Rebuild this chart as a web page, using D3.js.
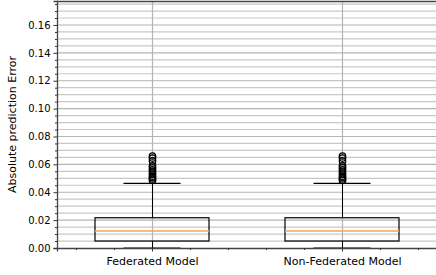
<!DOCTYPE html>
<html lang="en">
<head>
  <meta charset="UTF-8">
  <title>Absolute prediction error boxplot</title>
  <script src="https://d3js.org/d3.v7.min.js"></script>
  <style>
    body { margin: 0; background: #fff; }
    svg { display: block; font-family: "DejaVu Sans", sans-serif; }
    .grid-major { stroke: #b4b4b4; stroke-width: 1.2; }
    .grid-minor { stroke: #c8c8c8; stroke-width: 1.2; }
    .tick-label { font-size: 10px; fill: #000; }
  </style>
</head>
<body>
  <div id="chart"></div>
  <script>
    // data
    const categories = ['Federated Model', 'Non-Federated Model'];
    const q1 = [0.0050, 0.0050];
    const median = [0.0122, 0.0122];
    const q3 = [0.0217, 0.0217];
    const whiskerLow = [0.0, 0.0];
    const whiskerHigh = [0.0464, 0.0464];
    const outliers = [
      [0.0485, 0.0495, 0.0505, 0.0515, 0.0530, 0.0545, 0.0560, 0.0575, 0.0590, 0.0625, 0.0645, 0.0660],
      [0.0485, 0.0495, 0.0505, 0.0515, 0.0530, 0.0545, 0.0560, 0.0575, 0.0590, 0.0625, 0.0645, 0.0660]
    ];
    const yTicks = [0, 0.02, 0.04, 0.06, 0.08, 0.10, 0.12, 0.14, 0.16];

    const W = 436, H = 275;
    const m = { top: 1, right: 0, bottom: 27, left: 57 };
    const svg = d3.select('#chart').append('svg').attr('width', W).attr('height', H);

    const x = d3.scaleLinear().domain([0.5, 2.5]).range([m.left, W - m.right + 1]);
    const y = d3.scaleLinear().domain([0, 0.1772]).range([H - m.bottom, m.top]);

    const minorY = d3.range(0, 0.1772, 0.005).filter(v => Math.abs(Math.round(v / 0.02) * 0.02 - v) > 1e-6);
    const minorX = d3.range(0.6, 2.5, 0.2).filter(v => Math.abs(v - Math.round(v)) > 1e-6);

    // grid
    svg.append('g').selectAll('line').data(minorY).join('line')
      .attr('class', 'grid-minor')
      .attr('x1', m.left).attr('x2', W)
      .attr('y1', d => y(d)).attr('y2', d => y(d));
    svg.append('g').selectAll('line').data(yTicks.slice(1)).join('line')
      .attr('class', 'grid-major')
      .attr('x1', m.left).attr('x2', W)
      .attr('y1', d => y(d)).attr('y2', d => y(d));
    svg.append('g').selectAll('line').data([1, 2]).join('line')
      .attr('class', 'grid-major')
      .attr('x1', d => Math.round(x(d)) + 0.5).attr('x2', d => Math.round(x(d)) + 0.5)
      .attr('y1', m.top).attr('y2', H - m.bottom);

    // boxes
    const boxW = 0.6, capW = 0.3;
    const g = svg.append('g');
    categories.forEach((c, i) => {
      const cx = i + 1;
      const px = Math.round(x(cx)) + 0.5;
      // whiskers
      g.append('line').attr('x1', px).attr('x2', px)
        .attr('y1', y(q3[i])).attr('y2', y(whiskerHigh[i]))
        .attr('stroke', '#000').attr('stroke-width', 1);
      g.append('line').attr('x1', px).attr('x2', px)
        .attr('y1', y(q1[i])).attr('y2', y(whiskerLow[i]))
        .attr('stroke', '#000').attr('stroke-width', 1);
      [whiskerHigh[i], whiskerLow[i]].forEach(v => {
        g.append('line')
          .attr('x1', x(cx - capW / 2)).attr('x2', x(cx + capW / 2))
          .attr('y1', y(v)).attr('y2', y(v))
          .attr('stroke', '#000').attr('stroke-width', 1.2);
      });
      g.append('rect')
        .attr('x', x(cx - boxW / 2)).attr('y', y(q3[i]))
        .attr('width', x(cx + boxW / 2) - x(cx - boxW / 2))
        .attr('height', y(q1[i]) - y(q3[i]))
        .attr('fill', 'none').attr('stroke', '#000').attr('stroke-width', 1.2);
      g.append('line')
        .attr('x1', x(cx - boxW / 2)).attr('x2', x(cx + boxW / 2))
        .attr('y1', y(median[i])).attr('y2', y(median[i]))
        .attr('stroke', '#f5a55c').attr('stroke-width', 1.6);
      g.selectAll(null).data(outliers[i]).join('circle')
        .attr('cx', px).attr('cy', d => y(d)).attr('r', 3.2)
        .attr('fill', 'none').attr('stroke', '#000').attr('stroke-width', 1.3);
    });

    // axes
    const yAxis = svg.append('g').attr('transform', `translate(${m.left},0)`)
      .call(d3.axisLeft(y).tickValues(yTicks).tickFormat(d3.format('.2f')).tickSize(3.5).tickPadding(3));
    yAxis.selectAll('text').attr('class', 'tick-label').style('font-family', '"DejaVu Sans", sans-serif');
    svg.append('g').attr('transform', `translate(${m.left},0)`)
      .call(d3.axisLeft(y).tickValues(minorY).tickFormat('').tickSize(2))
      .select('.domain').remove();

    const xAxis = svg.append('g').attr('transform', `translate(0,${H - m.bottom})`)
      .call(d3.axisBottom(x).tickValues([1, 2]).tickFormat((d, i) => categories[i]).tickSize(3.5).tickPadding(6));
    xAxis.selectAll('text').attr('class', 'tick-label')
      .style('font-family', '"DejaVu Sans", sans-serif').style('font-size', '11px');
    svg.append('g').attr('transform', `translate(0,${H - m.bottom})`)
      .call(d3.axisBottom(x).tickValues(minorX).tickFormat('').tickSize(2))
      .select('.domain').remove();

    svg.selectAll('.domain').attr('stroke', '#444').attr('stroke-width', 1.3);
    svg.selectAll('.tick line').attr('stroke', '#333');

    // top spine
    svg.append('line').attr('x1', m.left).attr('x2', W)
      .attr('y1', m.top + 0.5).attr('y2', m.top + 0.5).attr('stroke', '#444').attr('stroke-width', 1.3);

    svg.append('text')
      .attr('transform', `translate(16,${(m.top + H - m.bottom) / 2}) rotate(-90)`)
      .attr('text-anchor', 'middle')
      .style('font-size', '11px')
      .text('Absolute prediction Error');
  </script>
</body>
</html>
